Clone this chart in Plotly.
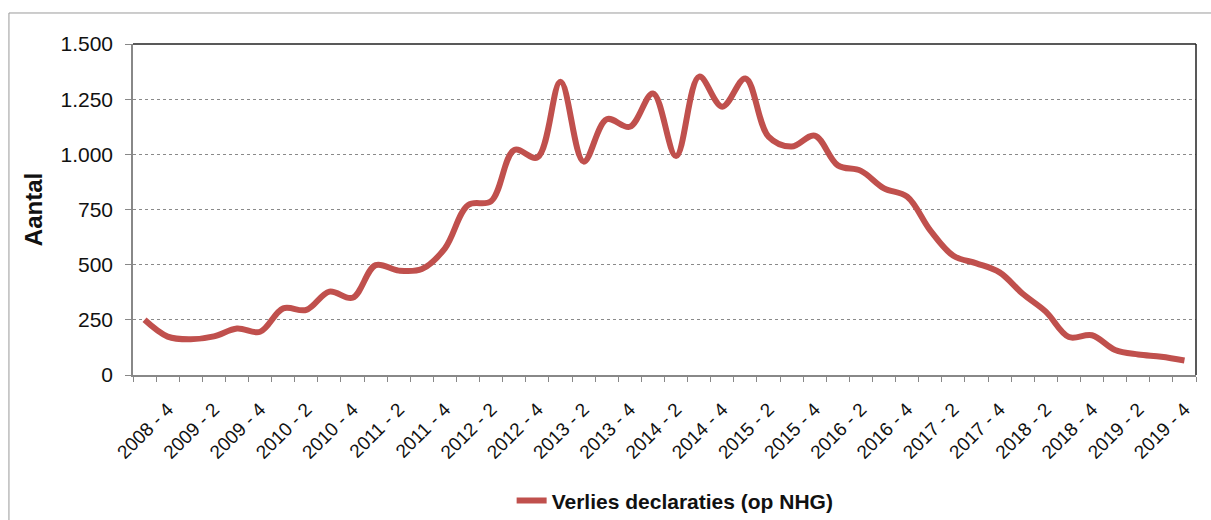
import plotly.graph_objects as go

# Categories (quarters) - 2008 Q3 .. 2019 Q4
quarters = [
    "2008 - 3", "2008 - 4",
    "2009 - 1", "2009 - 2", "2009 - 3", "2009 - 4",
    "2010 - 1", "2010 - 2", "2010 - 3", "2010 - 4",
    "2011 - 1", "2011 - 2", "2011 - 3", "2011 - 4",
    "2012 - 1", "2012 - 2", "2012 - 3", "2012 - 4",
    "2013 - 1", "2013 - 2", "2013 - 3", "2013 - 4",
    "2014 - 1", "2014 - 2", "2014 - 3", "2014 - 4",
    "2015 - 1", "2015 - 2", "2015 - 3", "2015 - 4",
    "2016 - 1", "2016 - 2", "2016 - 3", "2016 - 4",
    "2017 - 1", "2017 - 2", "2017 - 3", "2017 - 4",
    "2018 - 1", "2018 - 2", "2018 - 3", "2018 - 4",
    "2019 - 1", "2019 - 2", "2019 - 3", "2019 - 4",
]

# Verlies declaraties (op NHG)
verlies = [
    250, 174,
    162, 175, 211, 196,
    302, 295, 378, 350,
    498, 473, 480, 574,
    770, 788, 1020, 986,
    1329, 967, 1159, 1125,
    1276, 992, 1352, 1216,
    1344, 1080, 1035, 1085,
    950, 925, 846, 808,
    655, 540, 506, 465,
    368, 287, 172, 180,
    113, 93, 83, 66,
]

# Shown tick labels (every second quarter)
tick_labels = quarters[1::2]
tick_text = [q if q in tick_labels else "" for q in quarters]

y_ticks = [0, 250, 500, 750, 1000, 1250, 1500]

series_name = "Verlies declaraties (op NHG)"
line_color = "rgb(192,80,77)"
font_family = "Liberation Sans, Arial, sans-serif"

fig = go.Figure()
fig.add_trace(go.Scatter(
    x=quarters,
    y=verlies,
    mode="lines",
    name="<b>" + series_name + "</b>",
    line=dict(color=line_color, width=6, shape="spline", smoothing=1.0),
    hoverinfo="x+y",
))

fig.update_layout(
    width=1211,
    height=520,
    margin=dict(l=133, r=15, t=44, b=145, autoexpand=False),
    paper_bgcolor="white",
    plot_bgcolor="white",
    separators=",.",
    font=dict(family=font_family, color="#222222"),
    showlegend=True,
    legend=dict(
        orientation="h",
        x=0.51, xanchor="center",
        y=-0.38, yanchor="middle",
        font=dict(size=21, color="#111111"),
        bgcolor="rgba(0,0,0,0)",
    ),
    xaxis=dict(
        type="category",
        categoryorder="array",
        categoryarray=quarters,
        range=[-0.5, len(quarters) - 0.5],
        tickmode="array",
        tickvals=quarters,
        ticktext=tick_text,
        tickson="boundaries",
        ticks="outside",
        ticklen=5,
        tickcolor="#888888",
        tickangle=-45,
        ticklabelstandoff=14,
        tickfont=dict(size=19, color="#111111"),
        showline=True,
        linecolor="#888888",
        linewidth=1.5,
        showgrid=False,
        zeroline=False,
        automargin=False,
    ),
    yaxis=dict(
        range=[0, 1500],
        tickmode="array",
        tickvals=y_ticks,
        tickformat=",",
        ticks="outside",
        ticklen=6,
        tickcolor="#888888",
        ticklabelstandoff=8,
        tickfont=dict(size=21, color="#111111"),
        showline=True,
        linecolor="#888888",
        linewidth=1.5,
        showgrid=True,
        gridcolor="#8a8a8a",
        griddash="dot",
        gridwidth=1,
        zeroline=False,
        automargin=False,
        title=dict(
            text="<b>Aantal</b>",
            font=dict(size=24, color="#111111"),
            standoff=11,
        ),
    ),
    shapes=[
        # dark top and right frame of the plot area
        dict(type="line", xref="paper", yref="paper", x0=0, x1=1, y0=1, y1=1,
             line=dict(color="#222222", width=1.5)),
        dict(type="line", xref="paper", yref="paper", x0=1, x1=1, y0=0, y1=1,
             line=dict(color="#222222", width=1.5)),
        # outer chart border
        dict(type="rect", xref="paper", yref="paper",
             x0=-0.1167, x1=1.02, y0=-0.47, y1=1.0937,
             line=dict(color="#9a9a9a", width=1), fillcolor="rgba(0,0,0,0)",
             layer="below"),
    ],
)

fig.write_html(
    "out.html",
    config={"displayModeBar": False},
    post_script="document.body.style.margin='0';document.body.style.overflow='hidden';",
)
